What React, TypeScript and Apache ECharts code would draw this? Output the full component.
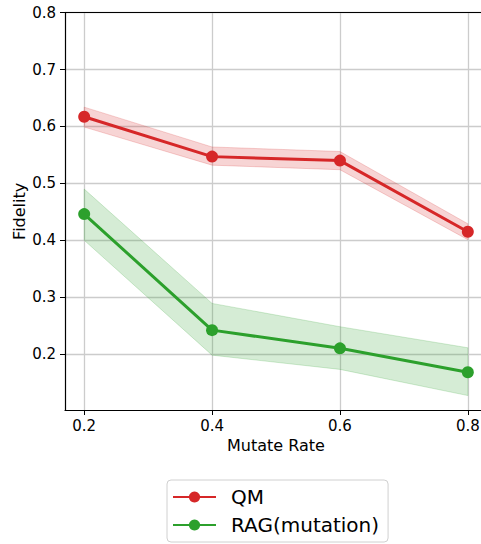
import React, { useEffect, useRef } from 'react';
import * as echarts from 'echarts';

const mutateRates = [0.2, 0.4, 0.6, 0.8];
const qmMean = [0.617, 0.547, 0.54, 0.415];
const qmLower = [0.599, 0.532, 0.524, 0.401];
const qmUpper = [0.634, 0.564, 0.556, 0.429];
const ragMean = [0.446, 0.242, 0.21, 0.168];
const ragLower = [0.4, 0.198, 0.173, 0.127];
const ragUpper = [0.49, 0.289, 0.248, 0.211];
const xTicks = [0.2, 0.4, 0.6, 0.8];
const yTicks = [0.2, 0.3, 0.4, 0.5, 0.6, 0.7, 0.8];

const FONT = 'DejaVu Sans';
const RED = '#d62728';
const GREEN = '#2ca02c';
const GRID_COLOR = '#cccccc';

const pairs = (ys: number[]) => mutateRates.map((x, i) => [x, ys[i]]);

function bandSeries(key: string, lo: number[], up: number[], rgba: string) {
  return {
    name: key,
    type: 'custom',
    silent: true,
    z: 1,
    data: [[mutateRates[0], up[0]]],
    renderItem: (_params: any, api: any) => {
      const pts: number[][] = [];
      mutateRates.forEach((x, i) => pts.push(api.coord([x, up[i]])));
      for (let i = mutateRates.length - 1; i >= 0; i--) pts.push(api.coord([mutateRates[i], lo[i]]));
      return {
        type: 'polygon',
        shape: { points: pts },
        style: { fill: rgba, stroke: rgba, lineWidth: 1 },
      };
    },
  };
}

export default function App() {
  const ref = useRef<HTMLDivElement>(null);
  useEffect(() => {
    if (!ref.current) return;
    const chart = echarts.init(ref.current, undefined, { renderer: 'svg' });
    chart.setOption({
      animation: false,
      backgroundColor: '#fff',
      textStyle: { fontFamily: FONT },
      grid: {
        left: 65,
        right: -6,
        top: 12.7,
        bottom: 134,
        show: false,
        containLabel: false,
        outerBoundsMode: 'none',
      },
      legend: {
        data: ['QM', 'RAG(mutation)'],
        orient: 'vertical',
        left: 167,
        top: 480,
        itemWidth: 43,
        itemHeight: 14,
        itemGap: 8,
        borderColor: '#d0d0d0',
        borderWidth: 1,
        borderRadius: 4,
        padding: [7, 9, 7, 5],
        textStyle: { fontSize: 20, fontFamily: FONT, color: '#000', padding: [0, 0, 0, 10] },
      },
      xAxis: [
        {
          type: 'value',
          min: 0.17,
          max: 0.83,
          name: 'Mutate Rate',
          nameLocation: 'middle',
          nameGap: 27,
          nameMoveOverlap: false,
          nameTextStyle: { fontSize: 16, color: '#000', fontFamily: FONT },
          axisLine: { show: true, lineStyle: { color: '#000', width: 1.2 } },
          axisTick: { show: true, length: 5, customValues: xTicks, lineStyle: { color: '#000' } },
          axisLabel: {
            customValues: xTicks,
            formatter: (v: number) => v.toFixed(1),
            fontSize: 15,
            color: '#000',
            margin: 8,
            fontFamily: FONT,
          },
          splitLine: { show: true, lineStyle: { color: GRID_COLOR, width: 1.3 } },
        },
        {
          type: 'value',
          position: 'top',
          min: 0.17,
          max: 0.83,
          axisLine: { show: true, onZero: false, lineStyle: { color: '#000', width: 1.2 } },
          axisTick: { show: false },
          axisLabel: { show: false },
          splitLine: { show: false },
        },
      ],
      yAxis: {
        type: 'value',
        min: 0.1016,
        max: 0.8,
        name: 'Fidelity',
        nameLocation: 'middle',
        nameGap: 38,
        nameMoveOverlap: false,
        nameTextStyle: { fontSize: 16, color: '#000', fontFamily: FONT },
        axisLine: { show: true, lineStyle: { color: '#000', width: 1.2 } },
        axisTick: { show: true, length: 5, customValues: yTicks, lineStyle: { color: '#000' } },
        axisLabel: {
          customValues: yTicks,
          formatter: (v: number) => v.toFixed(1),
          fontSize: 15,
          color: '#000',
          margin: 9,
          fontFamily: FONT,
        },
        splitLine: { show: true, lineStyle: { color: GRID_COLOR, width: 1.3 } },
      },
      series: [
        bandSeries('qmBand', qmLower, qmUpper, 'rgba(214,39,40,0.2)'),
        bandSeries('ragBand', ragLower, ragUpper, 'rgba(44,160,44,0.2)'),
        {
          name: 'QM',
          type: 'line',
          data: pairs(qmMean),
          symbol: 'circle',
          symbolSize: 12,
          color: RED,
          itemStyle: { color: RED },
          lineStyle: { color: RED, width: 3 },
          z: 3,
        },
        {
          name: 'RAG(mutation)',
          type: 'line',
          data: pairs(ragMean),
          symbol: 'circle',
          symbolSize: 12,
          color: GREEN,
          itemStyle: { color: GREEN },
          lineStyle: { color: GREEN, width: 3 },
          z: 3,
        },
      ],
    });
    return () => chart.dispose();
  }, []);
  return <div ref={ref} style={{ position: 'absolute', left: 0, top: 0, width: 481, height: 544 }} />;
}
